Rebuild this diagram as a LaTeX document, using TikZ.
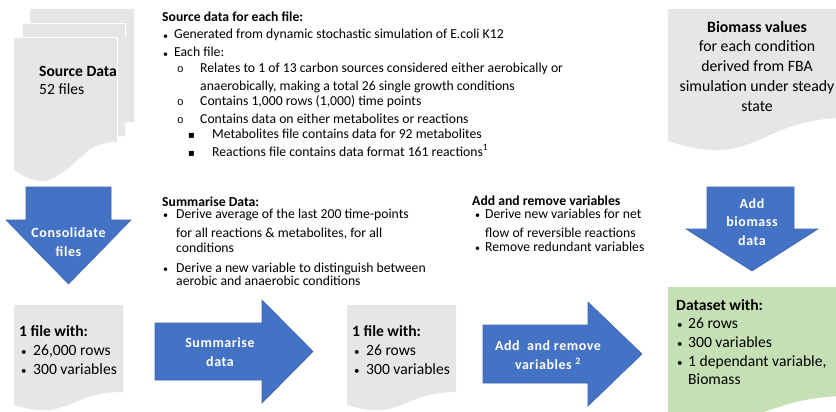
\documentclass[tikz,border=0pt]{standalone}
\usepackage{fontspec}
\setmainfont{Carlito}
\newfontfamily\dejavu{DejaVu Sans}
\newfontfamily\monoo{Liberation Mono}
\definecolor{arrowblue}{HTML}{4472C4}
\definecolor{arrowline}{HTML}{3F67B0}
\definecolor{docgray}{HTML}{E6E6E6}
\definecolor{docgreen}{HTML}{C5E0B4}
\begin{document}
\begin{tikzpicture}[x=1pt,y=-1pt,
  txt/.style={anchor=base west, inner sep=0, font=\fontsize{13.7}{16}\selectfont},
  hd/.style={txt, font=\fontsize{13.7}{16}\selectfont\bfseries},
  bul/.style={anchor=base west, inner sep=0, font=\fontsize{10}{12}\selectfont, yshift=-0.5pt},
  big/.style={anchor=base west, inner sep=0, font=\fontsize{15.6}{18}\selectfont},
  bighd/.style={big, font=\fontsize{15.6}{18}\selectfont\bfseries},
  bigbul/.style={anchor=base west, inner sep=0, font=\fontsize{11}{12}\selectfont, yshift=-0.5pt},
  bigc/.style={anchor=base, inner sep=0, font=\fontsize{15.8}{18}\selectfont},
  arrtxt/.style={inner sep=0, align=center, text=white, font=\fontsize{14}{19}\selectfont\bfseries\addfontfeatures{LetterSpace=4}},
  docfill/.style={fill=docgray},
  arrowshape/.style={fill=arrowblue, draw=arrowline, line width=0.6pt},
  subo/.style={anchor=base west, inner sep=0, font=\fontsize{11}{12}\selectfont\monoo},
  sq/.style={anchor=base west, inner sep=0, font=\fontsize{10}{12}\selectfont\dejavu}
]
\useasboundingbox (0,0) rectangle (836,412);
\clip (0,0) rectangle (836,412);
\fill[white] (0,0) rectangle (836,412);

% ---------- Source data document stack ----------
\fill[docfill] (30,9) -- (134,9) -- (134,122) .. controls (82,122) and (82,186) .. (30,150) -- cycle;
\fill[docfill] (23,23) -- (125,23) -- (125,136) .. controls (74,136) and (74,200) .. (23,164) -- cycle;
\fill[docfill] (14,37) -- (117,37) -- (117,142) .. controls (65.5,142) and (65.5,206) .. (14,170) -- cycle;
\draw[white, line width=0.8pt] (23,23) -- (125,23) -- (125,37);
\draw[white, line width=0.8pt] (14,37) -- (117,37) -- (117,142);
\node[bighd] (srcT) at (39,77) {Source Data};
\node[big] (srcN) at (39,95) {52 files};

% ---------- Source data description ----------
\node[hd] (h1) at (162,22) {Source data for each file:};
\node[bul] (b1) at (163,39) {•};
\node[txt] (t1) at (174,39) {Generated from dynamic stochastic simulation of E.coli K12};
\node[bul] (b2) at (163,57) {•};
\node[txt] (t2) at (174,57) {Each file:};
\node[subo] (o1) at (177,73) {o};
\node[txt] (t3) at (200,73) {Relates to 1 of 13 carbon sources considered either aerobically or};
\node[txt] (t3b) at (200,91) {anaerobically, making a total 26 single growth conditions};
\node[subo] (o2) at (177,106) {o};
\node[txt] (t4) at (200,106) {Contains 1,000 rows (1,000) time points};
\node[subo] (o3) at (177,123) {o};
\node[txt] (t5) at (200,123) {Contains data on either metabolites or reactions};
\node[sq] (s1) at (188,139) {▪};
\node[txt] (t6) at (212,139) {Metabolites file contains data for 92 metabolites};
\node[sq] (s2) at (188,156) {▪};
\node[txt] (t7) at (212,156) {Reactions file contains data format 161 reactions\textsuperscript{1}};

% ---------- Biomass document ----------
\fill[docfill] (668,9) -- (846,9) -- (846,118) .. controls (757,118) and (757,171) .. (668,141) -- cycle;
\node[bigc, font=\fontsize{15.8}{18}\selectfont\bfseries] (bm1) at (757,33) {Biomass values};
\node[bigc] (bm2) at (757,52) {for each condition};
\node[bigc] (bm3) at (757,72) {derived from FBA};
\node[bigc] (bm4) at (757,92) {simulation under steady};
\node[bigc] (bm5) at (757,111) {state};

% ---------- Consolidate arrow ----------
\draw[arrowshape] (26,187) -- (111,187) -- (111,220) -- (131,220) -- (68.5,284) -- (6,220) -- (26,220) -- cycle;
\node[arrtxt] (cons) at (68.5,242) {Consolidate\\files};

% ---------- Summarise description ----------
\node[hd] (h2) at (162,206) {Summarise Data:};
\node[bul] (sb1) at (163,218) {•};
\node[txt] (st1) at (176,218) {Derive average of the last 200 time-points};
\node[txt] (st1b) at (176,237) {for all reactions \& metabolites, for all};
\node[txt] (st1c) at (176,252) {conditions};
\node[bul] (sb2) at (163,272) {•};
\node[txt] (st2) at (176,272) {Derive a new variable to distinguish between};
\node[txt] (st2b) at (176,285) {aerobic and anaerobic conditions};

% ---------- Add and remove description ----------
\node[hd] (h3) at (472,205) {Add and remove variables};
\node[bul] (ab1) at (475,218) {•};
\node[txt] (at1) at (485,218) {Derive new variables for net};
\node[txt] (at1b) at (485,237) {flow of reversible reactions};
\node[bul] (ab2) at (475,251) {•};
\node[txt] (at2) at (485,251) {Remove redundant variables};

% ---------- Add biomass arrow ----------
\draw[arrowshape] (707,187) -- (794,187) -- (794,229) -- (818,229) -- (752,271) -- (686,229) -- (707,229) -- cycle;
\node[arrtxt, font=\fontsize{14}{18.5}\selectfont\bfseries\addfontfeatures{LetterSpace=4}] (addbm) at (752,222) {Add\\biomass\\data};

% ---------- Bottom doc 1 ----------
\fill[docfill] (14,305) -- (123,305) -- (123,392) .. controls (68.5,392) and (68.5,422) .. (14,405) -- cycle;
\node[bighd] (d1h) at (19,336) {1 file with:};
\node[bigbul] (d1b1) at (21,355) {•};
\node[big] (d1t1) at (33,355) {26,000 rows};
\node[bigbul] (d1b2) at (21,374) {•};
\node[big] (d1t2) at (33,374) {300 variables};

% ---------- Summarise arrow ----------
\draw[arrowshape] (155,323) -- (262,323) -- (262,300) -- (313,351.5) -- (262,403) -- (262,380) -- (155,380) -- cycle;
\node[arrtxt] (summ) at (220,352) {Summarise\\data};

% ---------- Bottom doc 2 ----------
\fill[docfill] (347,305) -- (456,305) -- (456,392) .. controls (401.5,392) and (401.5,422) .. (347,405) -- cycle;
\node[bighd] (d2h) at (352,336) {1 file with:};
\node[bigbul] (d2b1) at (354,355) {•};
\node[big] (d2t1) at (366,355) {26 rows};
\node[bigbul] (d2b2) at (354,374) {•};
\node[big] (d2t2) at (366,374) {300 variables};

% ---------- Add and remove arrow ----------
\draw[arrowshape] (483,325) -- (588,325) -- (588,302) -- (642,354) -- (588,406) -- (588,383) -- (483,383) -- cycle;
\node[arrtxt] (addrm) at (548,355) {Add\ \ and remove\\variables \textsuperscript{2}};

% ---------- Final dataset ----------
\fill[docgreen] (668,287) -- (850,287) -- (850,396) .. controls (759,396) and (759,437) .. (668,414) -- cycle;
\node[bighd] (d3h) at (676,310) {Dataset with:};
\node[bigbul] (d3b1) at (677,328) {•};
\node[big] (d3t1) at (688,328) {26 rows};
\node[bigbul] (d3b2) at (677,347) {•};
\node[big] (d3t2) at (688,347) {300 variables};
\node[bigbul] (d3b3) at (677,366) {•};
\node[big] (d3t3) at (688,366) {1 dependant variable,};
\node[big] (d3t4) at (688,384) {Biomass};
\end{tikzpicture}
\end{document}
